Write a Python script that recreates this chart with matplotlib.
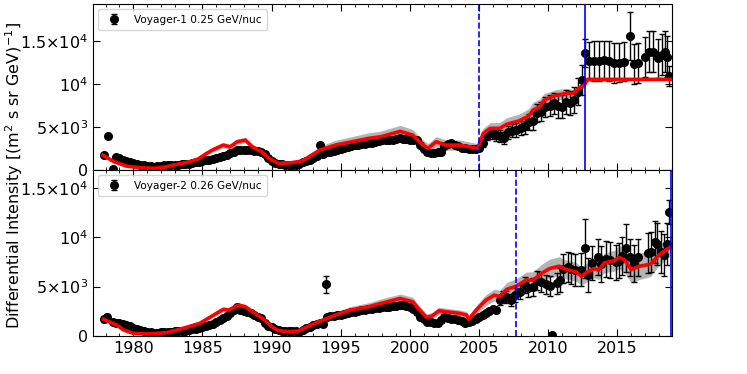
import numpy as np
import matplotlib
matplotlib.use('Agg')
import matplotlib.pyplot as plt
from matplotlib.ticker import FixedLocator, MultipleLocator

# ---------------- Voyager-1 (0.25 GeV/nuc) ----------------
v1_early_years = [1977.85, 1978.2, 1978.5]
v1_early_vals = [1740, 3990, 100]

v1_dense_years = np.arange(1978.75, 2005.0, 0.25)
v1_dense_vals = [1470,
                 1400, 1200, 1050, 950,
                 850, 750, 630, 560,
                 480, 420, 390, 420,
                 480, 550, 580, 600,
                 620, 640, 660, 700,
                 760, 820, 900, 970,
                 1050, 1120, 1200, 1280,
                 1360, 1480, 1620, 1780,
                 1940, 2150, 2330, 2350,
                 2330, 2330, 2300, 2250,
                 2200, 2050, 1900, 1350,
                 1000, 820, 700, 650,
                 600, 580, 600, 640,
                 700, 900, 1050, 1200,
                 1360, 1600, 2900, 1920,
                 2050, 2150, 2250, 2350,
                 2450, 2550, 2700, 2850,
                 2900, 2950, 3000, 3050,
                 3100, 3200, 3300, 3400,
                 3450, 3500, 3500, 3550,
                 3650, 3700, 3650, 3600,
                 3550, 3500, 3450, 2900,
                 2400, 2050, 2000, 2000,
                 2050, 2100, 2800, 3050,
                 3100, 2950, 2750, 2600,
                 2550, 2500, 2450, 2400]

v1_years = [2005.0, 2005.3, 2005.6, 2005.9, 2006.2, 2006.5, 2006.8, 2007.1,
            2007.4, 2007.7, 2008.0, 2008.3, 2008.6, 2008.9, 2009.2, 2009.5,
            2009.8, 2010.1, 2010.4, 2010.7, 2011.0, 2011.3, 2011.6, 2011.9,
            2012.15, 2012.45, 2012.68, 2012.97, 2013.33, 2013.69, 2014.05,
            2014.41, 2014.78, 2015.14, 2015.5, 2015.93, 2016.2, 2016.5,
            2017.0, 2017.3, 2017.6, 2017.97, 2018.26, 2018.45, 2018.62, 2018.73]
v1_vals = [2600, 3100, 4000, 4270, 4070, 4000, 3700, 4400, 4600, 4700, 4900,
           5100, 5620, 5700, 6590, 6800, 7360, 7500, 7750, 7400, 7360, 7940,
           7800, 8140, 9110, 10470, 13640, 12680, 12680, 12680, 12750, 12680,
           12450, 12500, 12600, 15580, 12330, 12440, 13180, 13760, 13760,
           12990, 13400, 13760, 13180, 10930]
v1_errs = [300, 400, 500, 600, 650, 700, 700, 750, 800, 800, 850, 900, 950,
           1000, 1050, 1100, 1150, 1200, 1250, 1300, 1350, 1400, 1450, 1500,
           1600, 1700, 1600, 2200, 2300, 2300, 2300, 2300, 2300, 2300, 2300,
           2800, 2300, 2300, 2300, 2400, 2400, 2300, 2400, 2400, 2400, 1200]

v1_model_years = [1977.8, 1978.6, 1979.5, 1980.5, 1981.5, 1982.3, 1982.9, 1984.1,
                  1984.7, 1985.3, 1985.8, 1986.5, 1987.0, 1987.5, 1988.1, 1988.6,
                  1989.3, 1989.8, 1990.5, 1991.4, 1992.2, 1992.9, 1993.5, 1994.6,
                  1995.8, 1997.0, 1997.9, 1999.3, 2000.2, 2000.8, 2001.3, 2001.9,
                  2002.6, 2003.6, 2004.3, 2004.9, 2005.3, 2005.8, 2006.5, 2007.0,
                  2007.9, 2008.6, 2008.9, 2009.4, 2009.7, 2010.6, 2011.3, 2011.8,
                  2012.3, 2012.6, 2012.85, 2018.9]
v1_model = [1740, 970, 460, 270, 200, 350, 580, 970, 1300, 1940, 2400, 2900,
            2700, 3290, 3490, 2710, 2130, 1360, 780, 850, 1050, 1740, 2330, 2900,
            3290, 3680, 3880, 4500, 4070, 3100, 2520, 3290, 2900, 2900, 2710,
            2520, 4270, 4850, 4850, 5330, 5720, 6300, 6980, 7360, 8140, 8720,
            8920, 8920, 9620, 9850, 10550, 10550]
v1_model_err = [150, 100, 80, 60, 60, 80, 100, 120, 150, 200,
                250, 300, 300, 300, 300, 300, 250, 200, 150, 150,
                200, 300, 450, 550, 600, 650, 650, 700, 650, 600,
                550, 600, 600, 600, 550, 550, 600, 650, 700, 750,
                800, 850, 900, 900, 750, 650, 550, 450, 350, 250,
                150, 150]

# ---------------- Voyager-2 (0.26 GeV/nuc) ----------------
v2_early_years = [1977.85, 1978.1, 1993.95]
v2_early_vals = [1690, 1950, 5220]
v2_early_errs = [300, 250, 840]

v2_dense_years = np.arange(1978.5, 2006.5, 0.25)
v2_dense_vals = [1400, 1350,
                 1300, 1250, 1150, 1000,
                 780, 700, 610, 500,
                 440, 400, 340, 340,
                 380, 420, 440, 440,
                 460, 480, 500, 540,
                 600, 680, 740, 780,
                 880, 1000, 1110, 1250,
                 1400, 1620, 1850, 2050,
                 2290, 2600, 2960, 2630,
                 2500, 2400, 2290, 2150,
                 1950, 1790, 1280, 1000,
                 880, 700, 610, 550,
                 500, 480, 520, 540,
                 440, 600, 780, 900,
                 1110, 1200, 1280, 1250,
                 1950, 2000, 2050, 2100,
                 2120, 2200, 2300, 2400,
                 2460, 2550, 2600, 2650,
                 2700, 2750, 2800, 2850,
                 2900, 2930, 2960, 3000,
                 3050, 3100, 3130, 3050,
                 2960, 2700, 2460, 1890,
                 1700, 1450, 1400, 1350,
                 1350, 1600, 1890, 1800,
                 1750, 1690, 1600, 1550,
                 1280, 1400, 1550, 1700,
                 1890, 2100, 2290, 2500,
                 2700, 2630]

v2_years = [2006.5, 2006.7, 2006.95, 2007.3, 2007.6, 2007.97, 2008.3, 2008.55,
            2008.9, 2009.2, 2009.5, 2009.85, 2010.1, 2010.3, 2010.6, 2010.85,
            2011.05, 2011.4, 2011.65, 2011.96, 2012.35, 2012.68, 2012.9, 2013.2,
            2013.6, 2013.8, 2014.2, 2014.5, 2014.9, 2015.1, 2015.35, 2015.6,
            2015.9, 2016.2, 2016.5, 2017.2, 2017.4, 2017.7, 2017.9, 2018.15,
            2018.4, 2018.6, 2018.7]
v2_vals = [3640, 4040, 3970, 3640, 4140, 4480, 5150, 4820, 4990, 5590, 5490,
           5220, 5100, 100, 5320, 5660, 6830, 7000, 6830, 6670, 6730, 8860,
           6160, 7400, 8010, 7300, 7800, 7700, 7460, 7630, 8120, 8920, 7950,
           7340, 7950, 8420, 8520, 9530, 9300, 8520, 8180, 9300, 12560]
v2_errs = [500, 550, 600, 650, 700, 750, 800, 850, 900, 950,
           1000, 1000, 1000, 0, 1100, 1200, 1500, 1500, 1600, 1600,
           1700, 3000, 1700, 1700, 1800, 1800, 1800, 1800, 1800, 1800,
           1900, 2400, 1900, 1900, 1900, 2000, 2000, 2100, 2100, 2100,
           2100, 2100, 1200]

v2_model_years = [1977.85, 1978.8, 1979.3, 1980.0, 1981.0, 1982.4, 1983.6, 1984.8,
                  1985.6, 1986.5, 1986.9, 1987.6, 1988.1, 1988.8, 1989.5, 1990.0,
                  1990.5, 1991.2, 1991.9, 1992.6, 1993.4, 1993.85, 1994.6, 1995.7,
                  1997.0, 1997.9, 1999.3, 2000.2, 2000.7, 2001.2, 2001.6, 2002.1,
                  2002.6, 2003.6, 2004.1, 2004.25, 2004.8, 2005.5, 2006.1, 2006.5,
                  2007.0, 2007.7, 2008.4, 2008.9, 2009.5, 2010.1, 2010.8, 2011.3,
                  2012.0, 2012.4, 2012.85, 2013.3, 2013.65, 2014.05, 2014.8, 2015.1,
                  2015.5, 2016.0, 2016.6, 2017.4, 2018.0, 2018.5, 2018.85]
v2_model = [1690, 1110, 610, 270, 200, 340, 780, 1280, 1950, 2700, 2630, 3130,
            2960, 2290, 1620, 950, 540, 440, 500, 950, 1450, 1690, 2120, 2630,
            2960, 3300, 3800, 3470, 2630, 1890, 2020, 2560, 2460, 2290, 2120,
            1690, 2630, 3640, 4140, 3970, 4720, 5050, 5660, 5660, 6330, 6830,
            7070, 6730, 6500, 6060, 6500, 6830, 6670, 7400, 7630, 7950, 7740,
            6730, 7070, 7270, 8180, 8690, 9020]
v2_model_err = [150, 100, 80, 60, 60, 80, 100, 150, 200, 250,
                250, 250, 250, 200, 150, 100, 80, 80, 80, 100,
                150, 200, 300, 350, 400, 450, 450, 450, 400, 350,
                350, 350, 350, 350, 350, 350, 450, 550, 600, 650,
                700, 750, 800, 850, 900, 950, 950, 950, 950, 950,
                950, 950, 950, 1000, 1050, 1150, 1250, 1350, 1350, 1250,
                1050, 950, 850]

# termination shock / heliopause crossings
v1_ts, v1_hp = 2004.96, 2012.65
v2_ts, v2_hp = 2007.66, 2018.85

panels = [
    dict(label='Voyager-1 0.25 GeV/nuc', early=(v1_early_years, v1_early_vals, None),
         dense=(v1_dense_years, v1_dense_vals), sparse=(v1_years, v1_vals, v1_errs),
         model=(v1_model_years, v1_model, v1_model_err), ts=v1_ts, hp=v1_hp, ymax=19300),
    dict(label='Voyager-2 0.26 GeV/nuc', early=(v2_early_years, v2_early_vals, v2_early_errs),
         dense=(v2_dense_years, v2_dense_vals), sparse=(v2_years, v2_vals, v2_errs),
         model=(v2_model_years, v2_model, v2_model_err), ts=v2_ts, hp=v2_hp, ymax=16800),
]

fig, axes = plt.subplots(2, 1, sharex=True, figsize=(7.47, 3.74), dpi=100)
fig.subplots_adjust(left=0.124, right=0.8996, bottom=0.1016, top=0.989, hspace=0)

for ax, p in zip(axes, panels):
    my, mv, me = (np.array(a, dtype=float) for a in p['model'])
    ax.fill_between(my, mv - me, mv + me, color='#b4b4b4', lw=0, zorder=1)

    ey, ev, ee = p['early']
    ax.errorbar(ey, ev, yerr=ee, fmt='o', color='k', ms=5.5, capsize=2, lw=1, zorder=3)
    ax.plot(p['dense'][0], p['dense'][1], 'o', color='k', ms=5.5, zorder=3)
    sy, sv, se = p['sparse']
    ax.errorbar(sy, sv, yerr=se, fmt='o', color='k', ms=5.5, capsize=2, lw=1,
                zorder=3, label=p['label'])

    ax.plot(my, mv, color='red', lw=2.6, zorder=4)
    ax.axvline(p['ts'], color='b', ls='--', lw=1.2, zorder=5)
    ax.axvline(p['hp'], color='b', ls='-', lw=1.2, zorder=5)

    ax.set_ylim(0, p['ymax'])
    ax.yaxis.set_major_locator(FixedLocator([0, 5000, 10000, 15000]))
    ax.set_yticklabels(['0', r'5$\times$10$^3$', r'10$^4$', r'1.5$\times$10$^4$'])
    ax.xaxis.set_major_locator(MultipleLocator(5))
    ax.xaxis.set_minor_locator(MultipleLocator(1))
    ax.tick_params(which='both', direction='in', top=True, right=True, labelsize=11.5)
    ax.tick_params(which='major', length=5)
    ax.tick_params(which='minor', length=2.5)
    ax.legend(loc='upper left', fontsize=7.6, handletextpad=0.9, borderpad=0.5)

axes[1].set_xlim(1977.06, 2018.95)
fig.text(0.019, 0.53, r'Differential Intensity [(m$^2$ s sr GeV)$^{-1}$]',
         rotation=90, ha='center', va='center', fontsize=11.5)

fig.savefig('out.png', dpi=100)
